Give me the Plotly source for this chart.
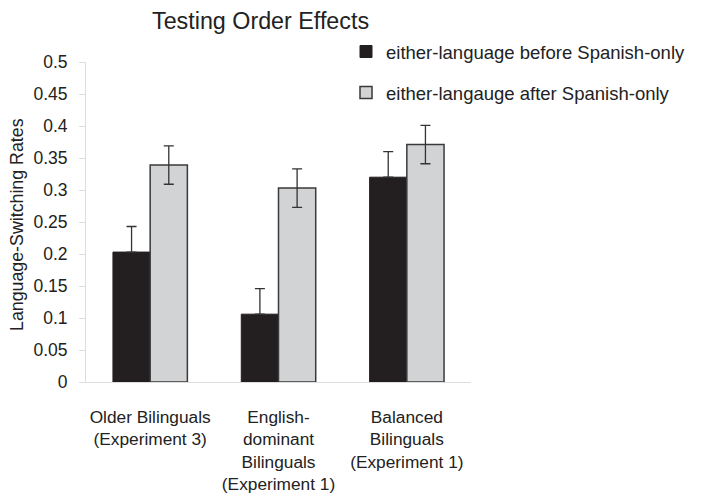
import plotly.graph_objects as go

categories = ["Older Bilinguals<br>(Experiment 3)",
              "English-<br>dominant<br>Bilinguals<br>(Experiment 1)",
              "Balanced<br>Bilinguals<br>(Experiment 1)"]
series_names = ["either-language before Spanish-only",
                "either-langauge after Spanish-only"]
before_vals = [0.203, 0.106, 0.320]
before_err = [0.04, 0.04, 0.04]
after_vals = [0.339, 0.303, 0.371]
after_err = [0.03, 0.03, 0.03]
y_tickvals = [0, 0.05, 0.1, 0.15, 0.2, 0.25, 0.3, 0.35, 0.4, 0.45, 0.5]
y_ticktext = ["0", "0.05", "0.1", "0.15", "0.2", "0.25", "0.3", "0.35", "0.4", "0.45", "0.5"]

FONT = "Liberation Sans, Arial, sans-serif"
TXT = "#222222"

# page has an 8px body margin; plot area on screen: x 86..471, y 62..382
OFF = 8
PX0, PX1, PY0, PY1 = 86, 471, 62, 382
W, H = 701, 499


def px_x(sx):
    return (sx - PX0) / (PX1 - PX0)


def px_y(sy):
    return (PY1 - sy) / (PY1 - PY0)


fig = go.Figure()
fig.add_trace(go.Bar(
    x=categories, y=before_vals, name=series_names[0],
    marker=dict(color="#231f20", line=dict(color="#231f20", width=1)),
    error_y=dict(type="data", array=before_err, arrayminus=[0, 0, 0], symmetric=False,
                 color="#333333", thickness=1.3, width=5),
    legend="legend",
))
fig.add_trace(go.Bar(
    x=categories, y=after_vals, name=series_names[1],
    marker=dict(color="#d2d3d5", line=dict(color="#3a3a3a", width=1.5)),
    error_y=dict(type="data", array=after_err, color="#333333", thickness=1.3, width=5),
    legend="legend2",
))

leg_common = dict(xanchor="left", yanchor="middle", font=dict(size=18.5, color=TXT, family=FONT),
                  bgcolor="rgba(0,0,0,0)", borderwidth=0)

fig.update_layout(
    width=W, height=H,
    margin=dict(l=PX0 - OFF, r=W - (PX1 - OFF), t=PY0 - OFF, b=H - (PY1 - OFF), autoexpand=False),
    paper_bgcolor="white", plot_bgcolor="white",
    barmode="group", bargap=0.42, bargroupgap=0,
    font=dict(family=FONT, color=TXT),
    title=dict(text="Testing Order Effects", xref="container", yref="container",
               x=(152 - OFF) / W, xanchor="left", y=1 - 12.5 / H, yanchor="middle",
               font=dict(size=23.3, color=TXT, family=FONT)),
    showlegend=True,
    legend=dict(x=px_x(346), y=px_y(52), **leg_common),
    legend2=dict(x=px_x(346), y=px_y(93), **leg_common),
    xaxis=dict(showline=True, linecolor="#dddddd", linewidth=1, ticks="", showgrid=False,
               tickfont=dict(size=17.3, color=TXT), ticklabelstandoff=19),
    yaxis=dict(range=[0, 0.5], tickvals=y_tickvals, ticktext=y_ticktext,
               showline=True, linecolor="#dddddd", linewidth=1, ticks="outside", ticklen=6,
               tickcolor="#dddddd", showgrid=False, zeroline=False, ticklabelstandoff=8,
               tickfont=dict(size=17.5, color=TXT)),
    annotations=[dict(text="Language-Switching Rates", textangle=-90,
                      x=px_x(17), y=px_y(225), xref="paper", yref="paper",
                      xanchor="center", yanchor="middle", showarrow=False,
                      font=dict(size=17.8, color=TXT))],
)
fig.write_html("out.html")
